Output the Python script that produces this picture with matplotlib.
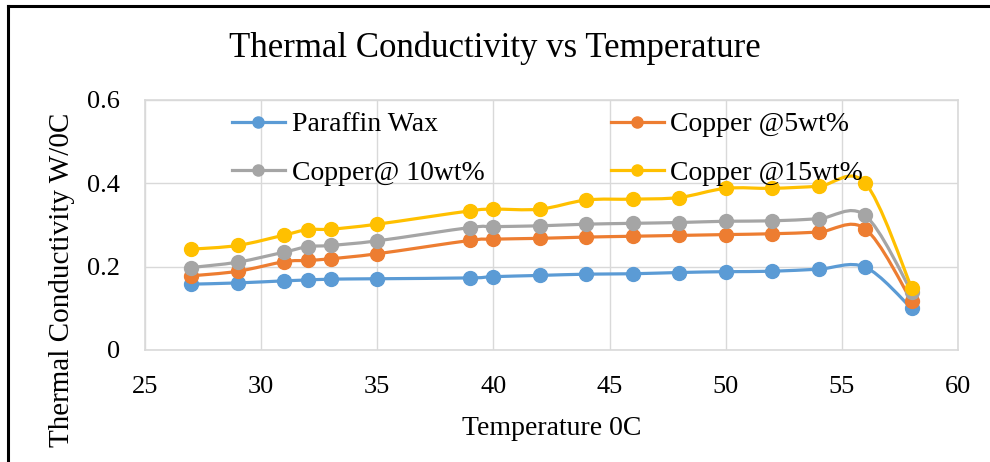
import matplotlib.pyplot as plt
from matplotlib.path import Path
from matplotlib.patches import PathPatch
from matplotlib.lines import Line2D

# ── Data ──────────────────────────────────────────────────────────────────────
temp = [27, 29, 31, 32, 33, 35, 39, 40, 42, 44, 46, 48, 50, 52, 54, 56, 58]

paraffin = [0.158, 0.161, 0.166, 0.168, 0.170, 0.171, 0.173, 0.176, 0.179,
            0.182, 0.183, 0.186, 0.188, 0.189, 0.194, 0.199, 0.100]
copper5 = [0.178, 0.189, 0.212, 0.215, 0.219, 0.231, 0.263, 0.266, 0.268,
           0.271, 0.273, 0.275, 0.277, 0.279, 0.283, 0.291, 0.118]
copper10 = [0.198, 0.211, 0.235, 0.248, 0.251, 0.262, 0.294, 0.296, 0.298,
            0.302, 0.304, 0.306, 0.309, 0.310, 0.315, 0.323, 0.140]
copper15 = [0.242, 0.251, 0.276, 0.289, 0.290, 0.302, 0.334, 0.338, 0.338,
            0.360, 0.362, 0.366, 0.388, 0.388, 0.393, 0.401, 0.150]

series = [
    ("Paraffin Wax", paraffin, "#5B9BD5"),
    ("Copper @5wt%", copper5, "#ED7D31"),
    ("Copper@ 10wt%", copper10, "#A5A5A5"),
    ("Copper @15wt%", copper15, "#FFC000"),
]

plt.rcParams["font.family"] = ["Liberation Serif", "DejaVu Serif"]


def smooth_path(xs, ys):
    # Excel-style smoothed line: cubic Bezier segments through every point
    pts = list(zip(xs, ys))
    n = len(pts)
    verts = [pts[0]]
    codes = [Path.MOVETO]
    for i in range(n - 1):
        p0 = pts[i - 1] if i > 0 else pts[i]
        p1 = pts[i]
        p2 = pts[i + 1]
        p3 = pts[i + 2] if i + 2 < n else pts[i + 1]
        c1 = (p1[0] + (p2[0] - p0[0]) / 6, p1[1] + (p2[1] - p0[1]) / 6)
        c2 = (p2[0] - (p3[0] - p1[0]) / 6, p2[1] - (p3[1] - p1[1]) / 6)
        verts += [c1, c2, p2]
        codes += [Path.CURVE4] * 3
    return Path(verts, codes)


fig = plt.figure(figsize=(9.9, 4.62), dpi=100)
ax = fig.add_axes([145 / 990, 112 / 462, 813 / 990, 250 / 462])

handles = {}
for name, vals, color in series:
    ax.add_patch(PathPatch(smooth_path(temp, vals), fill=False,
                           edgecolor=color, linewidth=2.3, zorder=3))
    ax.plot(temp, vals, linestyle="none", marker="o", markersize=10,
            color=color, zorder=4)
    handles[name] = Line2D([], [], color=color, linewidth=2.3, marker="o",
                           markersize=8, label=name)

ax.set_xlim(25, 60)
ax.set_ylim(0, 0.6)
ax.set_xticks(range(25, 61, 5))
ax.set_yticks([0, 0.2, 0.4, 0.6])
ax.set_yticklabels(["0", "0.2", "0.4", "0.6"])
ax.tick_params(length=0, labelsize=19)
ax.tick_params(axis="y", pad=18)
ax.tick_params(axis="x", pad=19)
ax.grid(True, color="#D9D9D9", linewidth=1)
ax.set_axisbelow(True)
for sp in ax.spines.values():
    sp.set_color("#D9D9D9")
    sp.set_linewidth(1.2)

ax.set_xlabel("Temperature 0C", fontsize=20, labelpad=13)
ax.set_ylabel("Thermal Conductivity W/0C", fontsize=21)
ax.yaxis.set_label_coords(-0.086, 0.28)
fig.text(0.5, 1 - 48 / 462, "Thermal Conductivity vs Temperature",
         ha="center", va="center", fontsize=25)

# legend filled column-wise: reorder so rows read as in the original
order = ["Paraffin Wax", "Copper@ 10wt%", "Copper @5wt%", "Copper @15wt%"]
ax.legend(handles=[handles[k] for k in order], ncol=2, loc="upper left",
          bbox_to_anchor=(218 / 990, 1 - 98 / 462),
          bbox_transform=fig.transFigure, frameon=False, fontsize=20,
          handlelength=1.9, handletextpad=0.25, columnspacing=4.55,
          labelspacing=0.82, borderpad=0)

# page frame around the chart
fig.add_artist(Line2D([8 / 990, 8 / 990], [0, 1 - 6 / 462],
                      transform=fig.transFigure, color="black", linewidth=2.2))
fig.add_artist(Line2D([8 / 990, 1], [1 - 6 / 462, 1 - 6 / 462],
                      transform=fig.transFigure, color="black", linewidth=2.2))

fig.savefig("out.png", dpi=100)
